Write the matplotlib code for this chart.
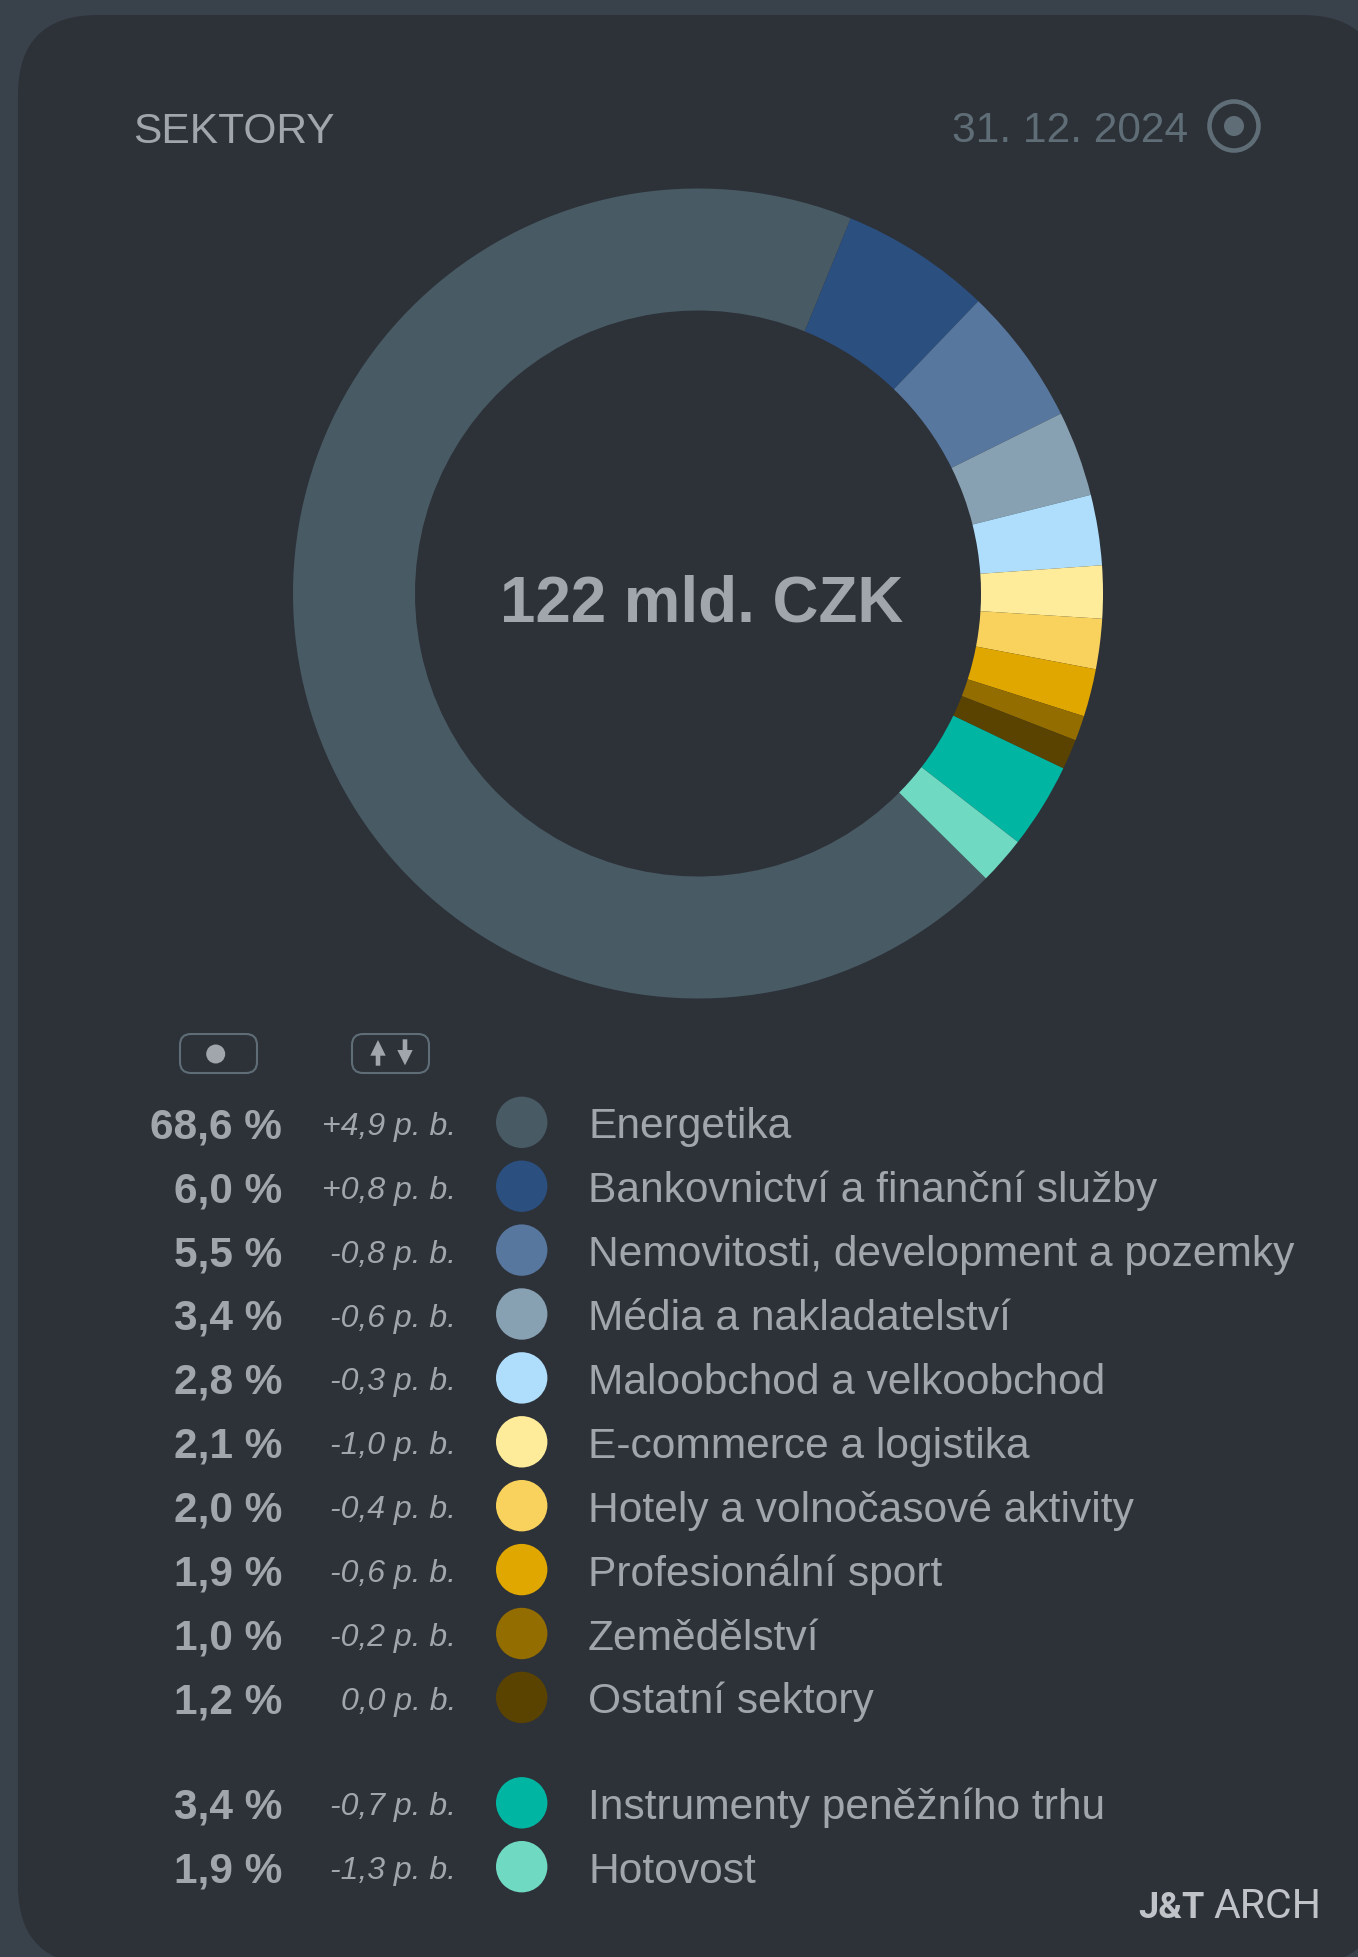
import matplotlib
matplotlib.use('Agg')
import matplotlib.pyplot as plt
from matplotlib.patches import Circle, FancyBboxPatch, Polygon

plt.rcParams['font.family'] = ['Liberation Sans', 'DejaVu Sans']

# data
sectors = ['Energetika', 'Bankovnictví a finanční služby', 'Nemovitosti, development a pozemky',
           'Média a nakladatelství', 'Maloobchod a velkoobchod', 'E-commerce a logistika',
           'Hotely a volnočasové aktivity', 'Profesionální sport', 'Zemědělství', 'Ostatní sektory',
           'Instrumenty peněžního trhu', 'Hotovost']
shares = [68.6, 6.0, 5.5, 3.4, 2.8, 2.1, 2.0, 1.9, 1.0, 1.2, 3.4, 1.9]
changes = ['+4,9', '+0,8', '-0,8', '-0,6', '-0,3', '-1,0', '-0,4', '-0,6', '-0,2', '0,0', '-0,7', '-1,3']
colors = ['#485a64', '#2b4f7e', '#57779e', '#87a0b2', '#afdefc', '#ffec9b',
          '#f8d25c', '#dfa700', '#946d00', '#5a4300', '#00b6a2', '#70d9c2']

W, H = 1358, 1957
BG = '#39414a'
CARD = '#2d3138'
TEXT = '#a0a6ab'
MUTED = '#5f6d76'

fig = plt.figure(figsize=(W / 100, H / 100), dpi=100, facecolor=BG)

# whole figure axes in pixel coordinates
ax = fig.add_axes([0, 0, 1, 1])
ax.set_xlim(0, W)
ax.set_ylim(H, 0)
ax.axis('off')

ax.add_patch(FancyBboxPatch((18, 15), 1364, 1950, boxstyle='round,pad=0,rounding_size=80',
                            fc=CARD, ec='none'))

ax.text(133, 143, 'SEKTORY', fontsize=30.6, color=TEXT, va='baseline')
ax.text(952, 142, '31. 12. 2024', fontsize=30.6, color=MUTED, va='baseline')
ax.add_patch(Circle((1234, 126), 24.5, fc='none', ec=MUTED, lw=3.3))
ax.add_patch(Circle((1234, 126), 10, fc=MUTED, ec='none'))

# donut
cx, cy, r_out, r_in = 698, 593.5, 405, 283
ax_pie = fig.add_axes([(cx - r_out) / W, 1 - (cy + r_out) / H, 2 * r_out / W, 2 * r_out / H], zorder=2)
ax_pie.pie(shares, colors=colors, startangle=-44.7, counterclock=False, radius=1,
           wedgeprops=dict(width=1 - r_in / r_out, linewidth=0))
ax_pie.set_xlim(-1, 1)
ax_pie.set_ylim(-1, 1)
ax_pie.patch.set_visible(False)

ax.text(702, 621, '122 mld. CZK', fontsize=45.8, fontweight='bold', color=TEXT,
        ha='center', va='baseline')

# column header buttons
for x0 in (180, 352):
    ax.add_patch(FancyBboxPatch((x0, 1034), 77, 39, boxstyle='round,pad=0,rounding_size=11',
                                fc='none', ec=MUTED, lw=1.5))
ax.add_patch(Circle((215.7, 1054), 9.5, fc=TEXT, ec='none'))
ax.add_patch(Polygon([(378, 1040), (385.7, 1055.7), (380.3, 1055.7), (380.3, 1065.7),
                      (375.7, 1065.7), (375.7, 1055.7), (370.3, 1055.7)], fc=TEXT, ec='none'))
ax.add_patch(Polygon([(405, 1065.3), (412.7, 1050), (407.3, 1050), (407.3, 1039.3),
                      (402.7, 1039.3), (402.7, 1050), (397.3, 1050)], fc=TEXT, ec='none'))

# legend rows
for i, name in enumerate(sectors):
    y = 1122.3 + 63.9 * i
    if i >= 10:
        y += 41.5
    pct = f'{shares[i]:.1f}'.replace('.', ',') + ' %'
    ax.text(282, y + 16, pct, fontsize=30.5, fontweight='bold', color=TEXT, ha='right', va='baseline')
    ax.text(456, y + 12.5, changes[i] + ' p. b.', fontsize=23, fontstyle='italic', color=TEXT,
            ha='right', va='baseline')
    ax.add_patch(Circle((521.7, y), 25.7, fc=colors[i], ec='none'))
    ax.text(588, y + 16, name, fontsize=30.6, color=TEXT, va='baseline')

# logo
ax.text(1138, 1918, 'J&T', fontsize=26, fontweight='bold', color='#c0c4c9', va='baseline',
        family=['Roboto', 'DejaVu Sans'])
ax.text(1213, 1918, 'ARCH', fontsize=29.5, color='#c0c4c9', va='baseline',
        family=['Roboto', 'DejaVu Sans'])

fig.savefig('out.png', dpi=100, facecolor=BG)
